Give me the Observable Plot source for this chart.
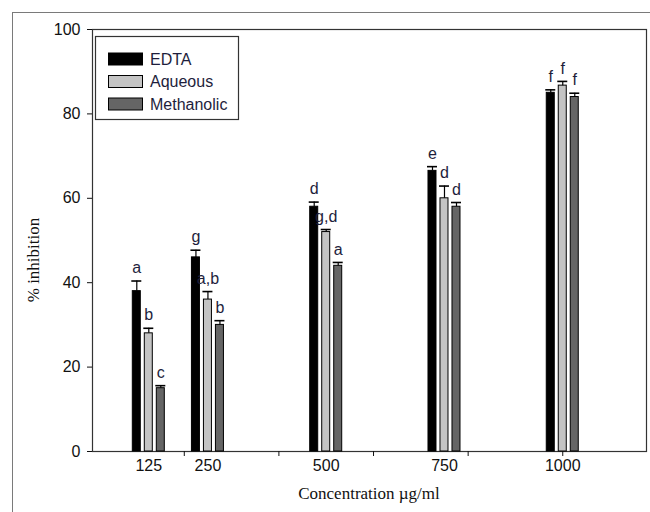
<!DOCTYPE html>
<html><head><meta charset="utf-8">
<script src="https://cdn.jsdelivr.net/npm/d3@7"></script>
<script src="https://cdn.jsdelivr.net/npm/@observablehq/plot@0.6"></script>
<style>
html,body{margin:0;padding:0;background:#fff;overflow:hidden}
#wrap{position:relative;width:650px;height:512px}
#border{position:absolute;left:12px;top:12px;width:700px;height:600px;border:1.5px solid #7a7a7a;box-sizing:border-box;pointer-events:none}
#chart{position:absolute;left:0;top:0}
</style></head><body>
<div id="wrap"><div id="chart"></div><div id="border"></div></div>
<script>
const concentrations = [125, 250, 500, 750, 1000];
const series = ["EDTA", "Aqueous", "Methanolic"];
const edta = [38, 46, 58, 66.5, 85];
const aqueous = [28, 36, 52, 60, 86.7];
const methanolic = [15, 30, 44, 58, 84];
const edtaErr = [2.4, 1.7, 1.1, 1, 0.7];
const aqueousErr = [1.2, 1.9, 0.6, 2.9, 1];
const methanolicErr = [0.6, 1, 0.8, 1, 0.9];
const edtaLetters = ["a", "g", "d", "e", "f"];
const aqueousLetters = ["b", "a,b", "g,d", "d", "f"];
const methanolicLetters = ["c", "b", "a", "d", "f"];
const xTicks = [200, 400, 600, 800, 1000];
const yTicks = [0, 20, 40, 60, 80, 100];

const values = [edta, aqueous, methanolic];
const errors = [edtaErr, aqueousErr, methanolicErr];
const letters = [edtaLetters, aqueousLetters, methanolicLetters];
const colors = {EDTA: "#000000", Aqueous: "#c4c4c4", Methanolic: "#656565"};
const offsets = {EDTA: -12, Aqueous: 0, Methanolic: 12};
const SANS = "'Liberation Sans', Arial, sans-serif";
const SERIF = "'Liberation Serif', 'Times New Roman', serif";

const rows = [];
series.forEach((s, si) => concentrations.forEach((c, i) => rows.push({
  series: s, conc: c, value: values[si][i], err: errors[si][i], letter: letters[si][i]
})));

const marks = [];
for (const s of series) {
  const d = rows.filter(r => r.series === s);
  const dx = offsets[s];
  marks.push(Plot.rect(d, {x1: "conc", x2: "conc", y1: 0, y2: "value", dx, insetLeft: -4, insetRight: -4,
    fill: colors[s], stroke: "#000", strokeWidth: 1}));
  marks.push(Plot.ruleX(d, {x: "conc", y1: "value", y2: r => r.value + r.err, dx, stroke: "#000", strokeWidth: 1.2}));
  marks.push(Plot.ruleY(d, {x1: "conc", x2: "conc", y: r => r.value + r.err, dx, insetLeft: -5, insetRight: -5,
    stroke: "#000", strokeWidth: 1.6}));
  marks.push(Plot.text(d, {x: "conc", y: r => r.value + r.err, text: "letter", dx, dy: -13,
    fill: "#1e1e3c", fontSize: 16}));
}

const chart = Plot.plot({
  width: 650,
  height: 512,
  marginLeft: 92,
  marginRight: 4,
  marginTop: 29,
  marginBottom: 61,
  style: {fontFamily: SANS, fontSize: "16px", color: "#111", background: "#fff"},
  x: {domain: [6, 1177]},
  y: {domain: [0, 100]},
  marks: [
    Plot.frame({stroke: "#333", strokeWidth: 1.2}),
    Plot.axisY({ticks: yTicks, tickSize: 5, tickPadding: 7, label: null, fontSize: 16}),
    Plot.axisX({ticks: xTicks, tickSize: 5, tickFormat: () => "", label: null}),
    Plot.text(concentrations, {x: d => d, y: 0, dy: 14, text: d => String(d), fontSize: 16, fill: "#111"}),
    ...marks
  ]
});
document.getElementById("chart").appendChild(chart);

// axis titles and legend
const svg = d3.select(chart);
svg.append("text").attr("x", 369).attr("y", 499)
  .attr("text-anchor", "middle").attr("font-family", SERIF)
  .attr("font-size", 17).attr("fill", "#111").text("Concentration µg/ml");
svg.append("text").attr("transform", "translate(39,260) rotate(-90)")
  .attr("text-anchor", "middle").attr("font-family", SERIF)
  .attr("font-size", 17).attr("fill", "#111").text("% inhibition");

const lg = svg.append("g");
lg.append("rect").attr("x", 95.5).attr("y", 36.5).attr("width", 143).attr("height", 83)
  .attr("fill", "#fff").attr("stroke", "#333").attr("stroke-width", 1.2);
series.forEach((s, i) => {
  const cy = 59 + i * 22.5;
  lg.append("rect").attr("x", 108.5).attr("y", cy - 6).attr("width", 34).attr("height", 12)
    .attr("fill", colors[s]).attr("stroke", "#000").attr("stroke-width", 1);
  lg.append("text").attr("x", 150).attr("y", cy).attr("dy", "0.35em")
    .attr("text-anchor", "start").attr("font-family", SANS)
    .attr("font-size", 16).attr("fill", "#1e1e3c").text(s);
});
</script>
</body></html>
